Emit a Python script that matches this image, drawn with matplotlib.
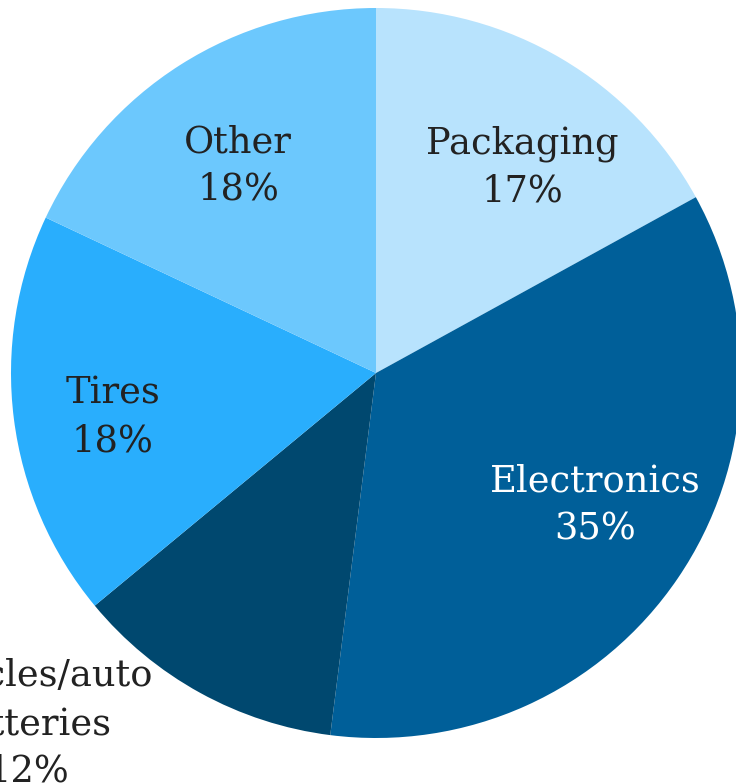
import numpy as np
import matplotlib.pyplot as plt

labels = ['Packaging', 'Electronics', 'Vehicles/auto\nbatteries', 'Tires', 'Other']
shares = [17, 35, 12, 18, 18]
colors = ['#b8e3fd', '#005f99', '#00486f', '#29aefd', '#6cc8fd']
text_colors = ['#222222', '#ffffff', '#222222', '#222222', '#222222']
# label centres, in units of the pie radius
label_pos = [(0.400, 0.562), (0.600, -0.362), (-0.953, -0.962), (-0.721, -0.121), (-0.378, 0.567)]

fig = plt.figure(figsize=(7.36, 7.84), dpi=100)
# pie centre at (376, 373) px, radius 365 px
ax = fig.add_axes([(376 - 365) / 736, (784 - 373 - 365) / 784, 730 / 736, 730 / 784])

wedges, texts = ax.pie(shares, colors=colors, startangle=90, counterclock=False,
                       radius=1, labels=[f'{l}\n{s}%' for l, s in zip(labels, shares)],
                       labeldistance=0.7,
                       textprops=dict(family='DejaVu Serif', fontsize=26.5, ha='center',
                                      va='center', linespacing=1.42))
for t, c, p in zip(texts, text_colors, label_pos):
    t.set_color(c)
    t.set_horizontalalignment('center')
    t.set_multialignment('center')
    t.set_position(p)

ax.set_xlim(-1, 1)
ax.set_ylim(-1, 1)
ax.set_aspect('equal')
ax.axis('off')

plt.savefig('out.png', dpi=100)
